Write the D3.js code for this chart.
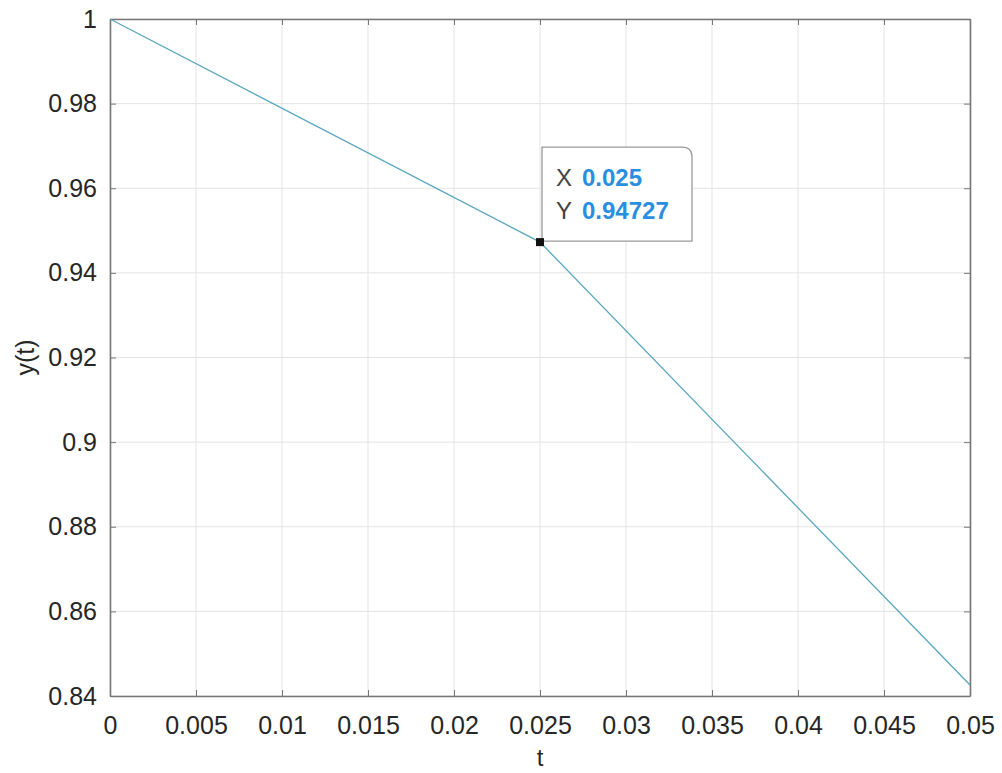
<!DOCTYPE html>
<html>
<head>
<meta charset="utf-8">
<script src="https://cdn.jsdelivr.net/npm/d3@7"></script>
<style>
  body { margin: 0; background: #fff; }
  text { font-family: "Liberation Sans", Arial, sans-serif; }
</style>
</head>
<body>
<svg id="chart" width="1002" height="773"></svg>
<script>
// datos
const tValues = [0, 0.025, 0.05];
const yValues = [1, 0.94727, 0.8426];
const xTicks = [0, 0.005, 0.01, 0.015, 0.02, 0.025, 0.03, 0.035, 0.04, 0.045, 0.05];
const yTicks = [0.84, 0.86, 0.88, 0.9, 0.92, 0.94, 0.96, 0.98, 1];
const tipPoint = [0.025, 0.94727];
const tipLabels = ["X", "Y"];
const tipTexts = ["0.025", "0.94727"];

const margin = {left: 110, top: 19, right: 32, bottom: 77};
const W = 1002, H = 773;
const svg = d3.select("#chart");

const x = d3.scaleLinear().domain([0, 0.05]).range([margin.left, W - margin.right]);
const y = d3.scaleLinear().domain([0.84, 1]).range([H - margin.bottom, margin.top]);

const fmt = d => String(+d.toFixed(4));

// rejilla
svg.append("g").selectAll("line").data(xTicks).enter().append("line")
  .attr("x1", d => x(d)).attr("x2", d => x(d))
  .attr("y1", y(0.84)).attr("y2", y(1))
  .attr("stroke", "#e3e3e3").attr("stroke-width", 1);
svg.append("g").selectAll("line").data(yTicks).enter().append("line")
  .attr("y1", d => y(d)).attr("y2", d => y(d))
  .attr("x1", x(0)).attr("x2", x(0.05))
  .attr("stroke", "#e3e3e3").attr("stroke-width", 1);

// ejes (ticks hacia dentro)
const axisColor = "#777";
const gBottom = svg.append("g").attr("transform", `translate(0,${y(0.84)})`)
  .call(d3.axisBottom(x).tickValues(xTicks).tickFormat(fmt).tickSizeInner(-6).tickSizeOuter(0).tickPadding(20));
const gTop = svg.append("g").attr("transform", `translate(0,${y(1)})`)
  .call(d3.axisTop(x).tickValues(xTicks).tickFormat("").tickSizeInner(-6).tickSizeOuter(0));
const gLeft = svg.append("g").attr("transform", `translate(${x(0)},0)`)
  .call(d3.axisLeft(y).tickValues(yTicks).tickFormat(fmt).tickSizeInner(-6).tickSizeOuter(0).tickPadding(13));
const gRight = svg.append("g").attr("transform", `translate(${x(0.05)},0)`)
  .call(d3.axisRight(y).tickValues(yTicks).tickFormat("").tickSizeInner(-6).tickSizeOuter(0));

[gBottom, gTop, gLeft, gRight].forEach(g => {
  g.select(".domain").attr("stroke", axisColor).attr("stroke-width", 1.6);
  g.selectAll(".tick line").attr("stroke", axisColor).attr("stroke-width", 1);
  g.selectAll("text").attr("fill", "#262626").style("font-size", "25px");
});
gBottom.selectAll("text").attr("dy", "0.71em");

// curva
const line = d3.line().x((d, i) => x(tValues[i])).y(d => y(d));
svg.append("path").datum(yValues)
  .attr("d", line)
  .attr("fill", "none")
  .attr("stroke", "#5aa6bf")
  .attr("stroke-width", 1.3);

// etiquetas de ejes
svg.append("text").attr("x", x(0.025)).attr("y", 766)
  .attr("text-anchor", "middle").attr("fill", "#262626").style("font-size", "24px").text("t");
svg.append("text")
  .attr("transform", `translate(34,${(y(0.84) + y(1)) / 2}) rotate(-90)`)
  .attr("text-anchor", "middle").attr("fill", "#262626").style("font-size", "25px").text("y(t)");

// datatip
const px = x(tipPoint[0]), py = y(tipPoint[1]);
const tip = svg.append("g");
tip.append("path")
  .attr("d", `M${px + 2},${py - 1} L${px + 2},${py - 95} L${px + 142},${py - 95} Q${px + 152},${py - 95} ${px + 152},${py - 85} L${px + 152},${py - 1} Z`)
  .attr("fill", "#fff").attr("stroke", "#999").attr("stroke-width", 1.3);
tip.selectAll("text.lab").data(tipLabels).enter().append("text")
  .attr("class", "lab")
  .attr("x", px + 16).attr("y", (d, i) => py - 56 + i * 33)
  .attr("fill", "#444").style("font-size", "24px").text(d => d);
tip.selectAll("text.val").data(tipTexts).enter().append("text")
  .attr("class", "val")
  .attr("x", px + 42).attr("y", (d, i) => py - 56 + i * 33)
  .attr("fill", "#2a8ee0").style("font-size", "24px").style("font-weight", "bold").text(d => d);
svg.append("rect")
  .attr("x", px - 4).attr("y", py - 4).attr("width", 8).attr("height", 8)
  .attr("fill", "#111");
</script>
</body>
</html>
